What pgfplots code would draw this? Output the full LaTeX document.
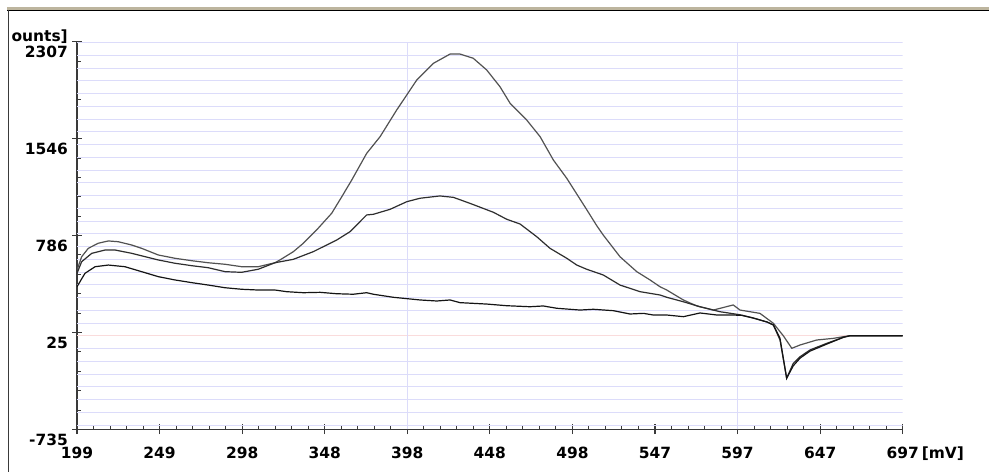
\documentclass[border=0pt]{standalone}
\usepackage{pgfplots}
\pgfplotsset{compat=1.18}
\usepackage{fontspec}
\setmainfont{DejaVu Sans}
\definecolor{gridblue}{HTML}{DCDCFA}
\definecolor{gridpink}{HTML}{FADCDC}
\definecolor{axgray}{HTML}{3A3A3A}
\definecolor{frametan}{HTML}{BDB59E}
\newcommand\lblfont{\fontsize{15.5}{18}\selectfont\bfseries}
\begin{document}
\begin{tikzpicture}
\path[use as bounding box] (0,0) rectangle (989bp,472bp);
\fill[white] (0,0) rectangle (989bp,472bp);
\fill[frametan] (7bp,462bp) rectangle (989bp,465bp);
\draw[black, line width=1bp] (7bp,461.5bp) -- (989bp,461.5bp);
\draw[axgray, line width=1.6bp] (8.3bp,0) -- (8.3bp,462bp);
\node[anchor=base east, inner sep=0pt, font=\lblfont] at (68bp,430.5bp) {ounts]};
\begin{axis}[
  at={(77bp,42.5bp)}, anchor=south west, scale only axis,
  width=825.7bp, height=387.8bp,
  xmin=199, xmax=697, ymin=-735, ymax=2307,
  axis x line*=bottom, axis y line*=left,
  axis line style={axgray, line width=1.2bp},
  tick style={axgray, line width=1.2bp},
  minor tick style={line width=1bp},
  tick align=inside, major tick length=5bp, minor tick length=4bp,
  xtick={199,248.8,298.6,348.4,398.2,448,497.8,547.6,597.4,647.2,697},
  xticklabels={199,249,298,348,398,448,498,547,597,647,697\rlap{\hspace{3bp}[mV]}},
  ytick={-735,25.5,786,1546.5,2307},
  yticklabels={-735,25,786,1546,2307},
  minor x tick num=4, minor y tick num=4,
  extra x ticks={199,248.8,298.6,348.4,398.2,448,497.8,547.6,597.4,647.2,697},
  extra x tick labels={},
  extra x tick style={tick align=outside, major tick length=4.5bp},
  extra y ticks={-735,25.5,786,1546.5,2307},
  extra y tick labels={},
  extra y tick style={tick align=outside, major tick length=5bp},
  xticklabel style={font=\lblfont, anchor=north, inner sep=0pt, yshift=-17.5bp},
  yticklabel style={font=\lblfont, anchor=north east, inner sep=0pt, xshift=-9bp, yshift=-4.5bp},
  clip=true,
]
\pgfplotsinvokeforeach{-700,-600,...,2300}{
  \draw[gridblue, line width=1bp] (axis cs:199,#1) -- (axis cs:697,#1);
}
\draw[gridpink, line width=1bp] (axis cs:199,0) -- (axis cs:697,0);
\draw[gridblue, line width=1bp] (axis cs:398.2,-735) -- (axis cs:398.2,2307);
\draw[gridblue, line width=1bp] (axis cs:597.4,-735) -- (axis cs:597.4,2307);

% big peak
\addplot[color=black!68, line width=1.2bp, no markers] coordinates {
(199,516)(201.8,620)(205.8,686)(211.8,726)(217.9,744)(223.9,738)(232.0,712)(238.0,686)
(248.0,634)(258.1,608)(268.2,589)(278.2,573)(288.3,561)(298.3,542)(308.3,542)(318.4,573)
(321.4,595)(329.5,660)(335.5,726)(343.5,830)(352.6,961)(358.7,1091)(364.7,1222)(373.7,1431)
(381.8,1562)(391.8,1771)(403.9,2006)(413.9,2137)(424.0,2210)(430.0,2210)(438.0,2177)
(446.1,2085)(454.1,1954)(460.2,1824)(470.2,1693)(478.3,1562)(486.3,1379)(494.4,1235)
(506.4,990)(512.4,865)(516.4,790)(526.5,620)(536.6,503)(544.6,438)(550.6,385)(554.7,359)
(564.7,281)(572.8,234)(582.8,202)(594.8,242)(598.9,202)(610.9,176)(619.0,98)(625.0,0)
(630.1,-98)(635.1,-72)(645.1,-33)(655.2,-20)(661.2,-7)(665,0)(697,0)
};
% moderate peak
\addplot[color=black!82, line width=1.2bp, no markers] coordinates {
(199,490)(201.8,581)(207.9,647)(215.9,673)(221.9,673)(232.0,647)(248.0,595)(258.1,569)
(268.2,550)(278.2,534)(288.3,503)(298.3,498)(308.3,522)(318.4,573)(329.5,600)(341.5,660)
(355.6,751)(363.7,817)(373.7,948)(377.7,953)(387.8,992)(397.9,1052)(405.9,1079)(417.9,1097)
(426.0,1086)(436.0,1039)(450.1,969)(458.2,914)(466.2,877)(476.3,777)(484.3,686)(494.4,608)
(500.4,555)(506.4,522)(516.4,477)(526.5,398)(538.6,346)(550.6,320)(554.7,302)(564.7,267)
(574.8,228)(586.8,189)(598.9,165)(606.7,140)(615.2,108)(619.0,85)(623.0,-33)(627.0,-333)
(631.0,-216)(635.1,-164)(641.1,-111)(651.2,-59)(661.2,-12)(665,0)(697,0)
};
% baseline curve
\addplot[color=black!92, line width=1.2bp, no markers] coordinates {
(199,385)(203.8,490)(209.9,542)(217.9,555)(227.9,542)(238.0,503)(248.0,464)(258.1,438)
(268.2,417)(278.2,398)(288.3,377)(298.3,365)(308.3,359)(318.4,359)(325.5,346)(335.5,338)
(345.6,341)(355.6,330)(365.6,326)(373.7,338)(377.7,326)(389.8,302)(405.9,281)(416.0,273)
(424.0,281)(430.0,260)(446.1,249)(458.2,236)(472.2,228)(480.2,234)(488.3,216)(502.4,202)
(510.4,208)(522.5,197)(532.5,171)(540.6,176)(546.6,163)(554.7,163)(564.7,150)(574.8,179)
(585.0,163)(594.8,163)(600.0,160)(606.7,140)(615.2,108)(619.0,85)(623.0,-20)(627.0,-333)
(631.0,-235)(635.1,-175)(641.1,-120)(651.2,-65)(661.2,-12)(665,0)(697,0)
};
\end{axis}
\end{tikzpicture}
\end{document}
